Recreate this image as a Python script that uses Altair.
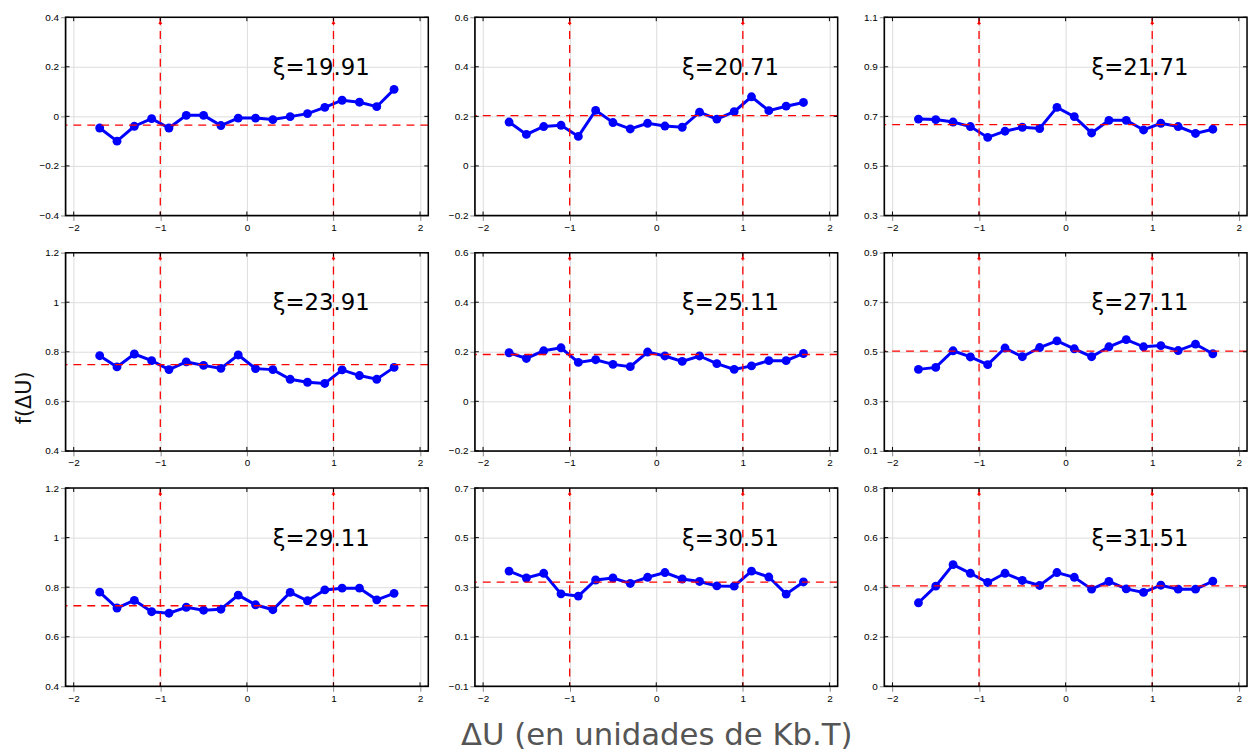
import altair as alt
import pandas as pd

# ---- data ----
x_vals = [-1.7, -1.5, -1.3, -1.1, -0.9, -0.7, -0.5, -0.3, -0.1,
          0.1, 0.3, 0.5, 0.7, 0.9, 1.1, 1.3, 1.5, 1.7]

xi_labels = ["ξ=19.91", "ξ=20.71", "ξ=21.71",
             "ξ=23.91", "ξ=25.11", "ξ=27.11",
             "ξ=29.11", "ξ=30.51", "ξ=31.51"]

f_1991 = [-0.047, -0.100, -0.040, -0.009, -0.047, 0.004, 0.004, -0.037, -0.007,
          -0.007, -0.013, -0.001, 0.011, 0.036, 0.065, 0.057, 0.039, 0.109]
f_2071 = [0.177, 0.127, 0.159, 0.164, 0.119, 0.224, 0.175, 0.149, 0.172,
          0.161, 0.156, 0.217, 0.189, 0.219, 0.279, 0.223, 0.241, 0.256]
f_2171 = [0.689, 0.687, 0.677, 0.659, 0.615, 0.640, 0.656, 0.651, 0.736,
          0.699, 0.633, 0.684, 0.684, 0.645, 0.672, 0.659, 0.631, 0.648]
f_2391 = [0.784, 0.739, 0.791, 0.764, 0.728, 0.759, 0.745, 0.733, 0.787,
          0.732, 0.728, 0.689, 0.677, 0.672, 0.727, 0.704, 0.689, 0.737]
f_2511 = [0.196, 0.173, 0.204, 0.216, 0.157, 0.168, 0.149, 0.140, 0.199,
          0.183, 0.161, 0.183, 0.152, 0.129, 0.143, 0.164, 0.164, 0.193]
f_2711 = [0.429, 0.437, 0.504, 0.479, 0.448, 0.515, 0.480, 0.517, 0.544,
          0.512, 0.480, 0.520, 0.549, 0.520, 0.525, 0.505, 0.531, 0.492]
f_2911 = [0.780, 0.716, 0.747, 0.701, 0.695, 0.719, 0.707, 0.711, 0.768,
          0.729, 0.709, 0.779, 0.745, 0.789, 0.796, 0.796, 0.749, 0.775]
f_3051 = [0.365, 0.337, 0.356, 0.273, 0.264, 0.329, 0.337, 0.315, 0.340,
          0.359, 0.333, 0.323, 0.305, 0.304, 0.365, 0.341, 0.272, 0.321]
f_3151 = [0.337, 0.404, 0.491, 0.456, 0.419, 0.456, 0.427, 0.407, 0.459,
          0.440, 0.392, 0.423, 0.393, 0.379, 0.408, 0.392, 0.392, 0.424]

series = [f_1991, f_2071, f_2171, f_2391, f_2511, f_2711, f_2911, f_3051, f_3151]

ref_levels = [-0.035, 0.203, 0.667, 0.748, 0.189, 0.503, 0.725, 0.320, 0.405]
vlines = [-1, 1]

x_ticks = [-2, -1, 0, 1, 2]
x_domain = [-2.095, 2.095]
y_domains = [[-0.4, 0.4], [-0.2, 0.6], [0.3, 1.1],
             [0.4, 1.2], [-0.2, 0.6], [0.1, 0.9],
             [0.4, 1.2], [-0.1, 0.7], [0.0, 0.8]]
y_ticks = [[-0.4, -0.2, 0, 0.2, 0.4], [-0.2, 0, 0.2, 0.4, 0.6], [0.3, 0.5, 0.7, 0.9, 1.1],
           [0.4, 0.6, 0.8, 1, 1.2], [-0.2, 0, 0.2, 0.4, 0.6], [0.1, 0.3, 0.5, 0.7, 0.9],
           [0.4, 0.6, 0.8, 1, 1.2], [-0.1, 0.1, 0.3, 0.5, 0.7], [0, 0.2, 0.4, 0.6, 0.8]]

x_title = "ΔU (en unidades de Kb.T)"
y_title = "f(ΔU)"

W, H = 366, 200
FONT = "DejaVu Sans"
TL = 4  # inward tick length


def panel(i):
    xs = alt.Scale(domain=x_domain, nice=False, zero=False)
    ys = alt.Scale(domain=y_domains[i], nice=False, zero=False)

    xkw = dict(values=x_ticks, title=None, format=".2~f", labelFlush=False)
    ykw = dict(values=y_ticks[i], title=None, format=".2~f", labelFlush=False)
    if i == 7:
        xkw.update(title=x_title, titleFontSize=31, titleColor="#555555",
                   titleFont=FONT, titleFontWeight="normal", titleY=50,
                   titleBaseline="middle")
    if i == 3:
        ykw.update(title=y_title, titleFontSize=21, titleColor="#111111",
                   titleFont=FONT, titleFontWeight="normal", titleX=-41,
                   titleY=146, titleAlign="center", titleBaseline="middle")

    df = pd.DataFrame({"x": x_vals, "y": series[i]})
    base = alt.Chart(df).encode(
        x=alt.X("x:Q", scale=xs, axis=alt.Axis(**xkw)),
        y=alt.Y("y:Q", scale=ys, axis=alt.Axis(**ykw)),
    )
    line = base.mark_line(color="#0000ff", strokeWidth=3)
    pts = base.mark_circle(color="#0000ff", size=80, opacity=1)

    hl = alt.Chart(pd.DataFrame({"r": [ref_levels[i]]})).mark_rule(
        color="#ff0000", strokeDash=[8, 6], strokeWidth=1.3
    ).encode(y=alt.Y("r:Q", scale=ys))
    vdf = pd.DataFrame({"v": vlines})
    vl = alt.Chart(vdf).mark_rule(
        color="#ff0000", strokeDash=[8, 6], strokeWidth=1.3
    ).encode(x=alt.X("v:Q", scale=xs))
    arrows = alt.Chart(vdf).mark_point(
        shape="triangle-up", filled=True, color="#ff0000", size=16, opacity=1
    ).encode(x=alt.X("v:Q", scale=xs), y=alt.value(5))

    label = alt.Chart(pd.DataFrame({"label": [xi_labels[i]]})).mark_text(
        font=FONT, fontSize=23, align="center", baseline="middle", color="#000000"
    ).encode(x=alt.value(258), y=alt.value(51), text="label:N")

    xt = pd.DataFrame({"t": x_ticks})
    yt = pd.DataFrame({"t": y_ticks[i]})
    tk = dict(color="#000000", strokeWidth=1)
    tb = alt.Chart(xt).mark_rule(**tk).encode(
        x=alt.X("t:Q", scale=xs), y=alt.value(H), y2=alt.value(H - TL))
    tt = alt.Chart(xt).mark_rule(**tk).encode(
        x=alt.X("t:Q", scale=xs), y=alt.value(0), y2=alt.value(TL))
    tl = alt.Chart(yt).mark_rule(**tk).encode(
        y=alt.Y("t:Q", scale=ys), x=alt.value(0), x2=alt.value(TL))
    tr = alt.Chart(yt).mark_rule(**tk).encode(
        y=alt.Y("t:Q", scale=ys), x=alt.value(W), x2=alt.value(W - TL))

    frame = alt.Chart(pd.DataFrame({"k": [0]})).mark_rect(
        fillOpacity=0, stroke="#000000", strokeWidth=1.5
    ).encode(x=alt.value(0), x2=alt.value(W), y=alt.value(0), y2=alt.value(H))

    return alt.layer(line, pts, hl, vl, arrows, label, tb, tt, tl, tr, frame).properties(
        width=W, height=H)


panels = [panel(i) for i in range(9)]
chart = alt.concat(*panels, columns=3, spacing={"row": 37.5, "column": 47},
                   bounds="flush").properties(
    padding={"left": 5, "top": 0, "right": 0, "bottom": 0}
).configure_view(
    stroke=None
).configure_axis(
    domain=False, ticks=False, grid=True, gridColor="#d8d8d8", gridDash=[1, 2],
    gridWidth=0.8, labelFont=FONT, labelFontSize=8, labelColor="#222222",
    labelPadding=6,
).configure(background="white")

chart.save("out.html", embed_options={"renderer": "svg", "actions": False})
